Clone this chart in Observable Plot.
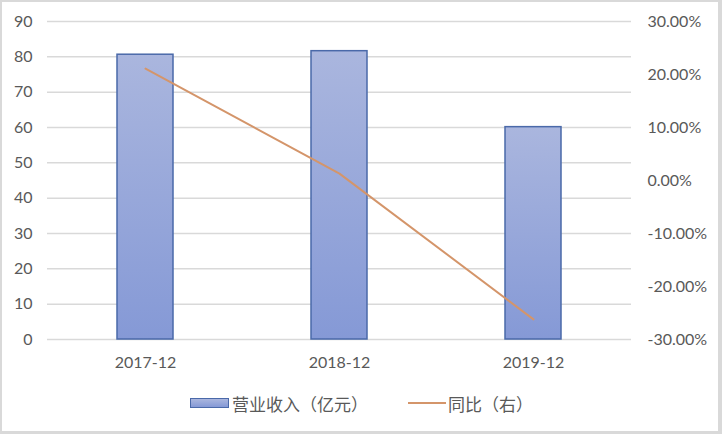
<!DOCTYPE html>
<html>
<head>
<meta charset="utf-8">
<script src="https://cdn.jsdelivr.net/npm/d3@7"></script>
<script src="https://cdn.jsdelivr.net/npm/@observablehq/plot@0.6"></script>
<style>
  html, body { margin: 0; padding: 0; background: #fff; }
  #wrap { position: relative; width: 722px; height: 434px; overflow: hidden; }
  #frame { position: absolute; left: 0; top: 0; width: 722px; height: 434px; box-sizing: border-box;
    border-left: 2px solid #d9d9d9; border-top: 2px solid #d9d9d9; border-right: 4px solid #d9d9d9; border-bottom: 3px solid #d9d9d9;
    pointer-events: none; }
  #legend { height: 46px; display: flex; align-items: center; padding-left: 190px; box-sizing: border-box;
    font-family: Lato, "Noto Sans CJK SC", sans-serif; font-size: 17px; color: #595959; }
  .sw-bar { width: 37px; height: 8px; border: 1px solid #4a69a9; background: linear-gradient(#aab6de, #8599d6); margin-right: 3px; }
  .sw-line { width: 38px; height: 2px; background: #d4956a; margin-right: 2px; }
  .item { display: flex; align-items: center; }
</style>
</head>
<body>
<div id="wrap">
  <div id="chart"></div>
  <div id="legend">
    <div class="item"><div class="sw-bar"></div><span>营业收入（亿元）</span></div>
    <div class="item" style="margin-left:40px"><div class="sw-line"></div><span>同比（右）</span></div>
  </div>
  <div id="frame"></div>
</div>
<script>
const periods = ["2017-12", "2018-12", "2019-12"];
const revenue = [80.6, 81.6, 60.1];
const growth = [21.1, 1.3, -26.2];
const leftTicks = [0, 10, 20, 30, 40, 50, 60, 70, 80, 90];
const pctTicks = [-30, -20, -10, 0, 10, 20, 30];

// map right-axis percent onto left-axis units
const pctToLeft = d3.scaleLinear().domain([-30, 30]).range([0, 90]);

const data = periods.map((p, i) => ({period: p, revenue: revenue[i], growth: growth[i], g: pctToLeft(growth[i])}));

const textColor = "#595959";
const chart = Plot.plot({
  width: 722,
  height: 380,
  marginLeft: 47,
  marginRight: 91,
  marginTop: 21,
  marginBottom: 41,
  style: {fontFamily: "Lato, 'Noto Sans CJK SC', sans-serif", fontSize: "16px", color: textColor, background: "transparent"},
  x: {type: "band", domain: periods, paddingInner: 0.71, paddingOuter: 0.355, axis: null},
  y: {domain: [0, 90], axis: null},
  marks: [
    Plot.gridY(leftTicks, {stroke: "#d9d9d9", strokeOpacity: 1, strokeWidth: 1.5}),
    Plot.barY(data, {x: "period", y: "revenue", fill: "#98a7da", stroke: "#4a69a9", strokeWidth: 1.5}),
    Plot.line(data, {x: "period", y: "g", stroke: "#d4956a", strokeWidth: 2}),
    Plot.axisY(leftTicks, {anchor: "left", tickSize: 0, tickPadding: 15, fill: textColor, fontSize: 16, label: null}),
    Plot.axisY(pctTicks.map(p => pctToLeft(p)), {anchor: "right", tickSize: 0, tickPadding: 16, fill: textColor, fontSize: 16, label: null,
      tickFormat: d => { const p = Math.round(pctToLeft.invert(d)); return (p === 0 ? 0 : p).toFixed(2) + "%"; }}),
    Plot.axisX({tickSize: 0, tickPadding: 17, fill: textColor, fontSize: 16, label: null})
  ]
});

// vertical gradient for bars
const ns = "http://www.w3.org/2000/svg";
const defs = document.createElementNS(ns, "defs");
const grad = document.createElementNS(ns, "linearGradient");
grad.setAttribute("id", "barGrad");
grad.setAttribute("x1", "0"); grad.setAttribute("y1", "0"); grad.setAttribute("x2", "0"); grad.setAttribute("y2", "1");
[["0%", "#aab6de"], ["100%", "#8599d6"]].forEach(([o, c]) => {
  const s = document.createElementNS(ns, "stop");
  s.setAttribute("offset", o); s.setAttribute("stop-color", c);
  grad.appendChild(s);
});
defs.appendChild(grad);
chart.insertBefore(defs, chart.firstChild);
chart.querySelectorAll('g[aria-label="bar"]').forEach(g => {
  g.setAttribute("fill", "url(#barGrad)");
  g.querySelectorAll("rect").forEach(r => r.setAttribute("fill", "url(#barGrad)"));
});

document.getElementById("chart").appendChild(chart);
</script>
</body>
</html>
